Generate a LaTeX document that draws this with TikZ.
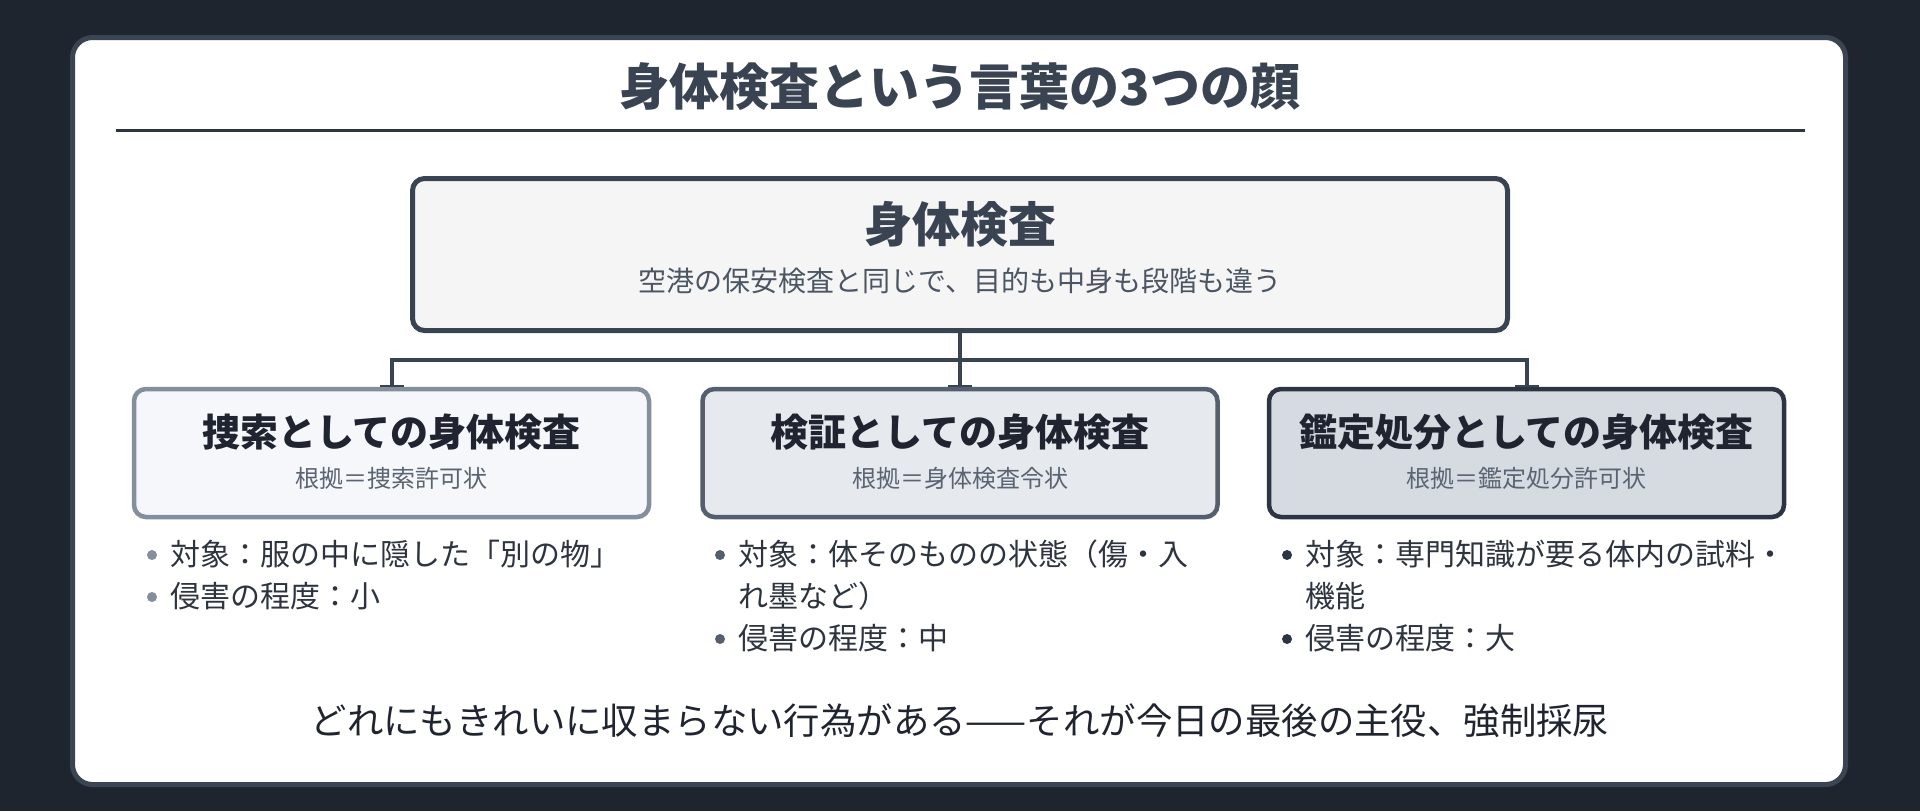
\documentclass[tikz,border=0pt]{standalone}
\usepackage{fontspec}
\setmainfont{Noto Sans CJK JP}
\usepackage{xcolor}
\usepackage{tikz}
\usetikzlibrary{positioning, arrows.meta}
\definecolor{nightbg}{HTML}{1E252F}
\definecolor{panelrim}{HTML}{3B4453}
\definecolor{slate}{HTML}{3A4352}
\definecolor{ink}{HTML}{1F2430}
\definecolor{listink}{HTML}{2D3440}
\definecolor{subgray}{HTML}{4B5563}
\definecolor{notegray}{HTML}{5B6472}
\definecolor{rimlight}{HTML}{858E9C}
\definecolor{rimmid}{HTML}{555F6D}
\definecolor{rimdark}{HTML}{2E3542}
\definecolor{filltop}{HTML}{F5F5F5}
\definecolor{filllight}{HTML}{F5F7FA}
\definecolor{fillmid}{HTML}{E6E9EE}
\definecolor{filldark}{HTML}{D6DBE2}
\tikzset{
    facebox/.style={
        draw, rounded corners = 6pt,
        line width = 2.25pt,
        minimum width = 257.5pt,
        minimum height = 64pt,
        inner sep = 0pt
    },
    facetitle/.style = {anchor = base, inner sep = 0pt, text = ink,
        font = \fontsize{19pt}{22pt}\selectfont\bfseries},
    facenote/.style = {anchor = base, inner sep = 0pt, text = notegray,
        font = \fontsize{12pt}{14pt}\selectfont},
    dot/.style = {circle, inner sep = 0pt, minimum size = 5pt},
    itemtext/.style = {anchor = base west, inner sep = 0pt, text = listink,
        font = \fontsize{15pt}{18pt}\selectfont},
    line/.style = {draw = slate, line width = 2pt, -{Rectangle[length=1pt,width=12pt]}}
}
\begin{document}
\begin{tikzpicture}[x=0.5pt, y=-0.5pt]

    % Dark background
    \fill[nightbg] (0,0) rectangle (1920,811);

    % White panel
    \path[fill = white, draw = panelrim, line width = 2.5pt, rounded corners = 10pt]
        (72.5,37.5) rectangle (1845.5,784.5);

    % Heading
    \node[anchor = base, inner sep = 0pt, text = slate,
        font = \fontsize{25pt}{30pt}\selectfont\bfseries] (heading) at (960,105)
        {身体検査という言葉の3つの顔};
    \draw[listink, line width = 1.5pt] (116,130) -- (1805,130);

    % Top box
    \node[draw = slate, fill = filltop, line width = 2.5pt, rounded corners = 6pt,
        minimum width = 547.5pt, minimum height = 76pt, inner sep = 0pt] (top) at (960,254.5) {};
    \node[anchor = base, inner sep = 0pt, text = slate,
        font = \fontsize{24pt}{28pt}\selectfont\bfseries] (toptitle) at (960,242) {身体検査};
    \node[anchor = base, inner sep = 0pt, text = subgray,
        font = \fontsize{14pt}{17pt}\selectfont] (topnote) at (960,291)
        {空港の保安検査と同じで、目的も中身も段階も違う};

    % Three faces
    \node[facebox, draw = rimlight, fill = filllight] (search) at (391.5,453) {};
    \node[facebox, draw = rimmid, fill = fillmid] (inspect) at (960,453) {};
    \node[facebox, draw = rimdark, fill = filldark] (expert) at (1526.5,453) {};

    \node[facetitle] (searchtitle) at (391.5,446) {捜索としての身体検査};
    \node[facenote] (searchnote) at (391.5,487) {根拠＝捜索許可状};
    \node[facetitle] (inspecttitle) at (960,446) {検証としての身体検査};
    \node[facenote] (inspectnote) at (960,487) {根拠＝身体検査令状};
    \node[facetitle] (experttitle) at (1526.5,446) {鑑定処分としての身体検査};
    \node[facenote] (expertnote) at (1526.5,487) {根拠＝鑑定処分許可状};

    % Connectors
    \coordinate (split) at (960,360);
    \draw[line] (top.south) -- (split) -| (search.north);
    \draw[line] (split) -- (inspect.north);
    \draw[line] (split) -| (expert.north);

    % Lists
    \node[dot, fill = rimlight] (searchdota) at (152,555) {};
    \node[itemtext] (searchitema) at (170,565) {対象：服の中に隠した「別の物」};
    \node[dot, fill = rimlight] (searchdotb) at (152,597) {};
    \node[itemtext] (searchitemb) at (170,607) {侵害の程度：小};

    \node[dot, fill = rimmid] (inspectdota) at (720,555) {};
    \node[itemtext] (inspectitema) at (738,565) {対象：体そのものの状態（傷・入};
    \node[itemtext] (inspectitemaa) at (738,607) {れ墨など）};
    \node[dot, fill = rimmid] (inspectdotb) at (720,639) {};
    \node[itemtext] (inspectitemb) at (738,649) {侵害の程度：中};

    \node[dot, fill = rimdark] (expertdota) at (1287,555) {};
    \node[itemtext] (expertitema) at (1305,565) {対象：専門知識が要る体内の試料・};
    \node[itemtext] (expertitemaa) at (1305,607) {機能};
    \node[dot, fill = rimdark] (expertdotb) at (1287,639) {};
    \node[itemtext] (expertitemb) at (1305,649) {侵害の程度：大};

    % Closing line
    \node[anchor = base, inner sep = 0pt, text = ink,
        font = \fontsize{18.2pt}{22pt}\selectfont] (closing) at (960,734.5)
        {どれにもきれいに収まらない行為がある——それが今日の最後の主役、強制採尿};

\end{tikzpicture}
\end{document}
